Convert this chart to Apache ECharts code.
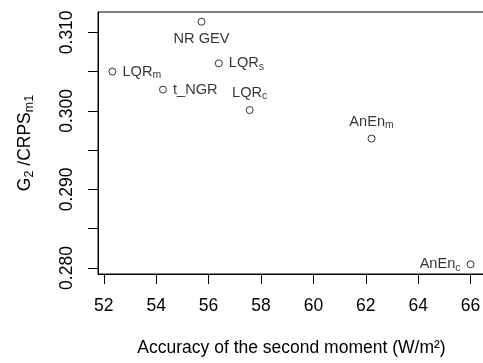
<!DOCTYPE html>
<html>
<head>
<meta charset="utf-8">
<script src="https://cdn.jsdelivr.net/npm/echarts@6/dist/echarts.min.js"></script>
<style>
html,body{margin:0;padding:0;background:#fff;}
#c{width:483px;height:363px;}
</style>
</head>
<body>
<div id="c"></div>
<script>
// ---- data ----
const pointNames = ['NR GEV', 'LQR', 'LQR', 't_NGR', 'LQR', 'AnEn', 'AnEn'];
const pointSubs  = ['', 's', 'm', '', 'c', 'm', 'c'];
const xValues    = [55.73, 56.39, 52.33, 54.26, 57.57, 62.22, 66.00];
const yValues    = [0.31135, 0.30605, 0.3050, 0.30271, 0.3001, 0.29647, 0.28047];
const xTicks     = [52, 54, 56, 58, 60, 62, 64, 66];
const yTicks     = [0.280, 0.285, 0.290, 0.295, 0.300, 0.305, 0.310];
const yTickLabels = [0.280, 0.290, 0.300, 0.310];

// ---- styling ----
const FONT = 'Liberation Sans, Arial, sans-serif';
const labelPlacement = ['bottom', 'right', 'right', 'right', 'top', 'top', 'left'];

const rich = {
  n: {fontSize: 14.6, fontFamily: FONT, color: '#000', lineHeight: 18, verticalAlign: 'middle'},
  s: {fontSize: 10.5, fontFamily: FONT, color: '#000', lineHeight: 10, verticalAlign: 'bottom'}
};

const data = xValues.map((x, i) => ({
  value: [x, yValues[i]],
  label: {
    show: true,
    position: labelPlacement[i],
    distance: (labelPlacement[i] === 'left' || labelPlacement[i] === 'right') ? 6 : 4,
    formatter: pointSubs[i] ? '{n|' + pointNames[i] + '}{s|' + pointSubs[i] + '}' : '{n|' + pointNames[i] + '}',
    rich: rich
  }
}));

const chart = echarts.init(document.getElementById('c'), null, {renderer: 'canvas'});
chart.setOption({
  animation: false,
  backgroundColor: '#fff',
  grid: {left: 98, right: -2, top: 12, bottom: 89, show: true, borderColor: '#000', borderWidth: 1, containLabel: false, outerBoundsMode: 'none'},
  xAxis: {
    type: 'value',
    min: 51.78, max: 66.55,
    axisLine: {show: true, onZero: false, lineStyle: {color: '#000', width: 1}},
    axisTick: {show: true, length: 10, lineStyle: {color: '#000'}, customValues: xTicks},
    axisLabel: {show: true, margin: 23, fontSize: 17.5, fontFamily: FONT, color: '#000', customValues: xTicks, formatter: v => String(v)},
    splitLine: {show: false},
    name: 'Accuracy of the second moment (W/m²)',
    nameLocation: 'middle',
    nameGap: 65,
    nameTextStyle: {fontSize: 17.5, fontFamily: FONT, color: '#000'}
  },
  yAxis: {
    type: 'value',
    min: 0.279235, max: 0.312585,
    axisLine: {show: true, onZero: false, lineStyle: {color: '#000', width: 1}},
    axisTick: {show: true, length: 10, lineStyle: {color: '#000'}, customValues: yTicks},
    axisLabel: {show: true, rotate: 90, margin: 22, fontSize: 17.5, fontFamily: FONT, color: '#000', customValues: yTickLabels, formatter: v => v.toFixed(3)},
    splitLine: {show: false},
    name: '{n|G}{s|2}{n| /CRPS}{s|m1}',
    nameLocation: 'middle',
    nameRotate: 90,
    nameGap: 62,
    nameTextStyle: {
      fontFamily: FONT, color: '#000',
      rich: {
        n: {fontSize: 17.5, fontFamily: FONT, color: '#000', lineHeight: 22, verticalAlign: 'middle'},
        s: {fontSize: 12.5, fontFamily: FONT, color: '#000', lineHeight: 12, verticalAlign: 'bottom'}
      }
    }
  },
  series: [{
    type: 'scatter',
    symbol: 'circle',
    symbolSize: 7,
    itemStyle: {color: '#fff', borderColor: '#000', borderWidth: 1},
    emphasis: {disabled: true},
    data: data
  }]
});
</script>
</body>
</html>
